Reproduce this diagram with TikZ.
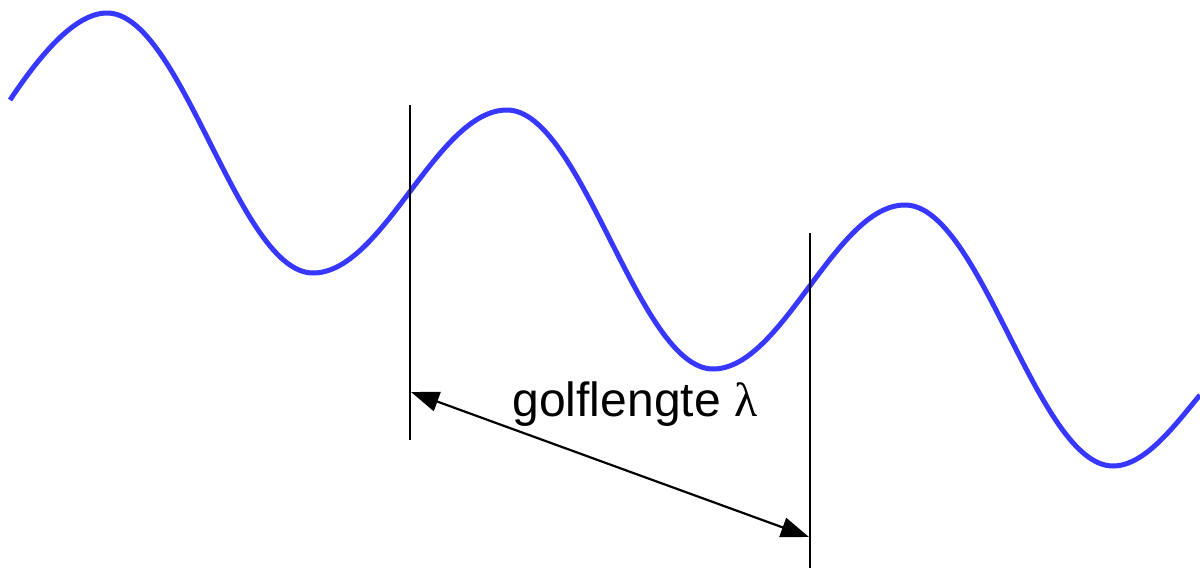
\documentclass[tikz,border=0pt]{standalone}
\usepackage{fontspec}
\setmainfont{Liberation Sans}
\newfontfamily\greekserif{Liberation Serif}
\usetikzlibrary{arrows.meta}
\definecolor{wavecol}{RGB}{55,55,255}
\tikzset{
  wave/.style={draw=wavecol, line width=5pt, line join=round},
  marker/.style={draw=black, line width=2pt},
  dimarrow/.style={draw=black, line width=2.2pt, {Triangle[length=28pt,width=20pt]}-{Triangle[length=28pt,width=20pt]}},
  lbl/.style={font=\fontsize{48}{56}\selectfont, anchor=base, inner sep=0pt}
}
\begin{document}
\begin{tikzpicture}[x=1pt,y=-1pt]
\useasboundingbox (0,0) rectangle (1200,568);
\fill[white] (0,0) rectangle (1200,568);
% wave
\coordinate (w0) at (10,100);
\coordinate (p1) at (107,13);
\coordinate (t1) at (313,273);
\coordinate (p2) at (507,110);
\coordinate (t2) at (713,369);
\coordinate (p3) at (905,205);
\coordinate (t3) at (1113,466);
\coordinate (w1) at (1200,395);
\draw[wave] (w0) .. controls (40,55) and (75,13) .. (p1)
  .. controls (182,13) and (238,273) .. (t1)
  .. controls (383.6,273) and (436.4,110) .. (p2)
  .. controls (582,110) and (638,369) .. (t2)
  .. controls (782.9,369) and (835.1,205) .. (p3)
  .. controls (980.7,205) and (1037.3,466) .. (t3)
  .. controls (1145,466) and (1175,425) .. (w1);
% markers
\coordinate (m1top) at (410,105);
\coordinate (m1bot) at (410,440);
\coordinate (m2top) at (810,233);
\coordinate (m2bot) at (810,568);
\draw[marker] (m1top) -- (m1bot);
\draw[marker] (m2top) -- (m2bot);
% dimension arrow
\coordinate (a1) at (411,392);
\coordinate (a2) at (809,537);
\draw[dimarrow] (a1) -- (a2);
% label
\node[lbl] (label) at (635,416) {golflengte {\greekserif λ}};
\end{tikzpicture}
\end{document}
